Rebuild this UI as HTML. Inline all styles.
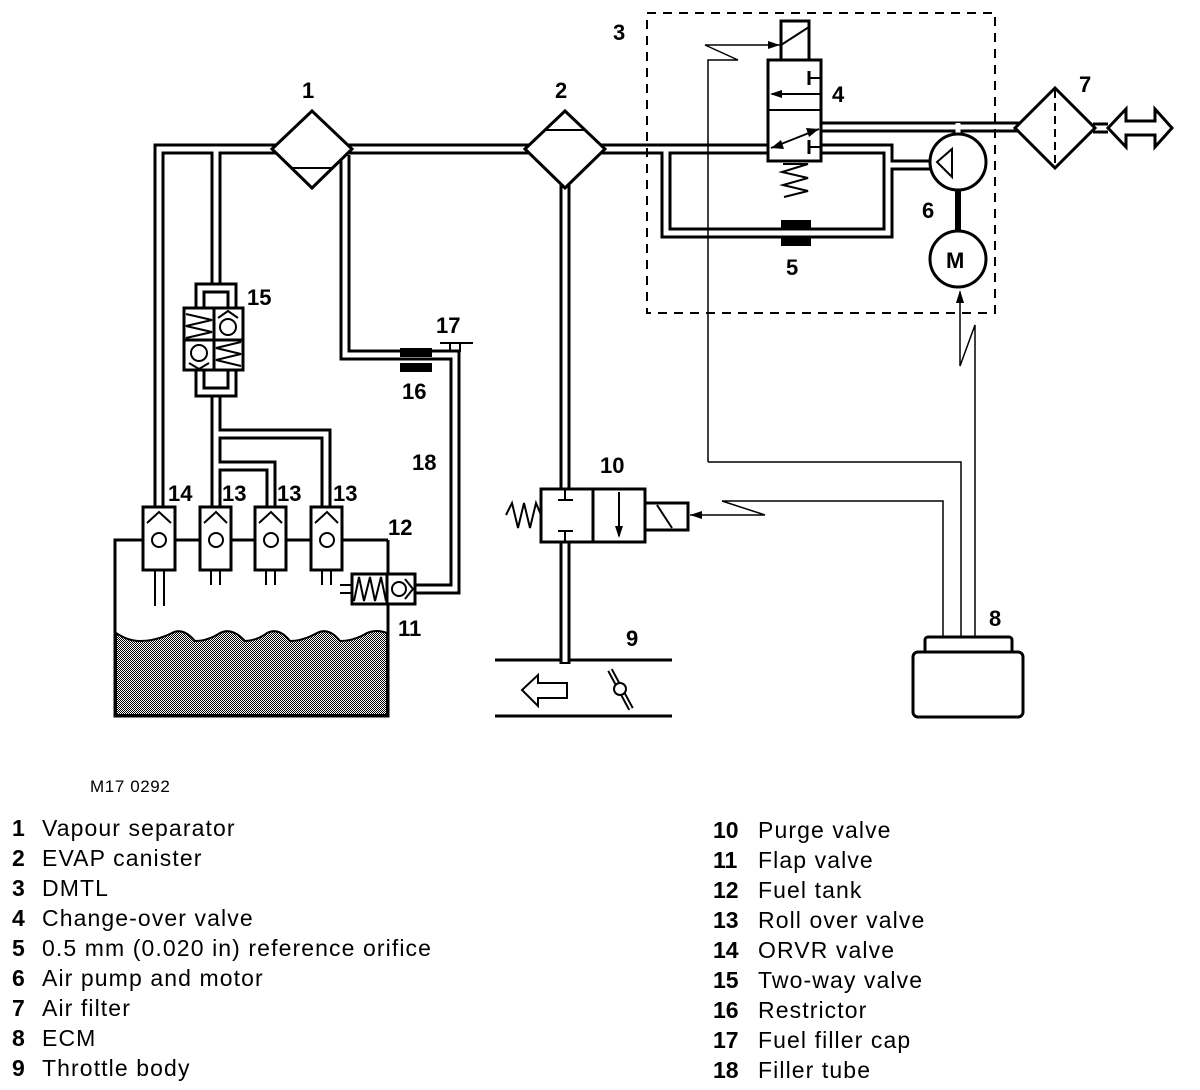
<!DOCTYPE html>
<html><head><meta charset="utf-8"><style>
html,body{margin:0;padding:0;background:#fff;}
svg{display:block;}
.t{font-family:"Liberation Sans",sans-serif;font-weight:bold;font-size:22px;fill:#000;}
.l{font-family:"Liberation Sans",sans-serif;font-size:23px;letter-spacing:1.1px;fill:#000;}
.lb{font-family:"Liberation Sans",sans-serif;font-size:23px;font-weight:bold;fill:#000;}
</style></head><body>
<svg width="1200" height="1090" viewBox="0 0 1200 1090" xmlns="http://www.w3.org/2000/svg">
<defs>
<pattern id="dith" width="2" height="2" patternUnits="userSpaceOnUse">
<rect width="2" height="2" fill="#fff"/><rect width="1" height="1" fill="#000"/><rect x="1" y="1" width="1" height="1" fill="#000"/>
</pattern>
</defs>
<g fill="none" stroke-linejoin="miter" stroke-linecap="butt">
<g stroke="#000" stroke-width="11">
<path d="M159,507 V149 H280"/>
<path d="M216,286 V149"/>
<path d="M345,155 V355 H455 V589 H415"/>
<path d="M345,149 H768"/>
<path d="M565,170 V490"/>
<path d="M565,542 V664"/>
<path d="M666,149 V233 H888 V149 H821"/>
<path d="M888,165 H932"/>
<path d="M821,127 H1020"/>
<path d="M958,127 V135"/>
<path d="M216,395 V507"/>
<path d="M216,434 H326 V507"/>
<path d="M216,466 H271 V507"/>
<path d="M1093,128 H1108"/>
</g>
<g stroke="#fff" stroke-width="5">
<path d="M159,510 V149 H280"/>
<path d="M216,286 V149"/>
<path d="M345,152 V355 H455 V589 H412"/>
<path d="M345,149 H768"/>
<path d="M565,170 V490"/>
<path d="M565,542 V662"/>
<path d="M666,149 V233 H888 V149 H821"/>
<path d="M888,165 H932"/>
<path d="M821,127 H1020"/>
<path d="M958,123 V137"/>
<path d="M216,394 V510"/>
<path d="M216,434 H326 V510"/>
<path d="M216,466 H271 V510"/>
<path d="M1093,128 H1108"/>
</g>
</g>
<g fill="none" stroke="#000" stroke-width="3">
<polygon points="272,149 312,111 352,149 312,188" fill="#fff"/>
<line x1="292" y1="168" x2="332" y2="168" stroke-width="2"/>
<polygon points="525,149 565,111 605,149 565,188" fill="#fff"/>
<line x1="545" y1="130" x2="585" y2="130" stroke-width="2"/>
<rect x="647" y="13" width="348" height="300" stroke-dasharray="9,7" stroke-width="2"/>
<rect x="781" y="21" width="28" height="40" fill="#fff"/>
<line x1="781" y1="45" x2="809" y2="27" stroke-width="2"/>
<rect x="768" y="60" width="53" height="101" fill="#fff"/>
<line x1="768" y1="110" x2="821" y2="110" stroke-width="2"/>
<line x1="772" y1="94" x2="821" y2="94" stroke-width="2"/>
<line x1="808" y1="78" x2="821" y2="78" stroke-width="2"/><line x1="809" y1="71" x2="809" y2="85"/>
<line x1="808" y1="147" x2="821" y2="147" stroke-width="2"/><line x1="809" y1="140" x2="809" y2="154"/>
<line x1="771" y1="148" x2="819" y2="129" stroke-width="2"/>
<polyline points="783,164 808,164 782,172 808,178 783,185 808,191 784,197" stroke-width="2"/>
<polyline points="708,462 708,60 738,60 705,45 780,45" stroke-width="1.5"/>
<circle cx="958" cy="162" r="28" fill="#fff"/>
<polygon points="937,162 952,149 952,177" stroke-width="2"/>
<line x1="958" y1="190" x2="958" y2="232" stroke-width="6"/>
<circle cx="958" cy="259" r="28" fill="#fff"/>
<rect x="781" y="220" width="30" height="10" fill="#000" stroke="none"/>
<rect x="781" y="236" width="30" height="10" fill="#000" stroke="none"/>
<polygon points="1015,128 1055,88 1095,128 1055,168" fill="#fff"/>
<line x1="1055" y1="90" x2="1055" y2="166" stroke-dasharray="8,5" stroke-width="2"/>
<polygon points="1108,128 1126,109 1126,121 1155,121 1155,109 1172,128 1155,147 1155,135 1126,135 1126,147" fill="#fff"/>
<polyline points="708,462 961,462 961,637" stroke-width="1.5"/>
<polyline points="975,637 975,325 960,366 960,292" stroke-width="1.5"/>
<polyline points="943,637 943,501 722,501 765,515 690,515" stroke-width="1.5"/>
<rect x="925" y="637" width="87" height="18" rx="3" fill="#fff"/>
<rect x="913" y="652" width="110" height="65" rx="5" fill="#fff"/>
<rect x="541" y="489" width="104" height="53" fill="#fff"/>
<line x1="593" y1="489" x2="593" y2="542"/>
<line x1="558" y1="500" x2="573" y2="500" stroke-width="2"/><line x1="565" y1="490" x2="565" y2="500" stroke-width="2"/>
<line x1="558" y1="531" x2="573" y2="531" stroke-width="2"/><line x1="565" y1="531" x2="565" y2="542" stroke-width="2"/>
<line x1="619" y1="492" x2="619" y2="536" stroke-width="2"/>
<rect x="645" y="503" width="43" height="27" fill="#fff"/>
<line x1="657" y1="505" x2="672" y2="528" stroke-width="2"/>
<polyline points="541,515 536,503 530,528 524,503 518,528 512,503 506,515" stroke-width="2"/>
<line x1="495" y1="660" x2="561" y2="660"/><line x1="569" y1="660" x2="672" y2="660"/>
<line x1="495" y1="716" x2="672" y2="716"/>
<polygon points="522,690 538,675 538,683 567,683 567,698 538,698 538,706" stroke-width="2" fill="#fff"/>
<line x1="610" y1="670" x2="631" y2="709" stroke-width="6"/>
<line x1="610" y1="670" x2="631" y2="709" stroke="#fff" stroke-width="2"/>
<circle cx="620" cy="689" r="6" fill="#fff" stroke-width="2"/>
<rect x="400" y="348" width="32" height="9" fill="#000" stroke="none"/>
<rect x="400" y="363" width="32" height="9" fill="#000" stroke="none"/>
<line x1="450" y1="343" x2="450" y2="352" stroke-width="2"/>
<line x1="460" y1="343" x2="460" y2="352" stroke-width="2"/>
<line x1="440" y1="343" x2="473" y2="343" stroke-width="2"/>
<path d="M196,308 V284 H236 V308 M204,308 V292 H228 V308" fill="#fff"/>
<path d="M196,370 V396 H236 V370 M204,370 V388 H228 V370" fill="#fff"/>
<rect x="184" y="308" width="59" height="62" fill="#fff"/>
<line x1="214" y1="308" x2="214" y2="370"/>
<line x1="184" y1="340" x2="243" y2="340"/>
<polyline points="186,314 212,320 186,326 212,332 186,338" stroke-width="2"/>
<polyline points="241,342 216,348 241,354 216,360 241,366" stroke-width="2"/>
<circle cx="228" cy="327" r="8" stroke-width="2"/><polyline points="218,318 228,311 238,318" stroke-width="2"/>
<circle cx="199" cy="353" r="8" stroke-width="2"/><polyline points="189,363 199,369 209,363" stroke-width="2"/>
<path d="M388,540 V716 H115 V540 H143 M175,540 H200 M231,540 H255 M286,540 H311 M342,540 H388" stroke-width="3"/>
<path d="M116,633 Q128,641 140,641 Q156,641 172,633 Q183,627 195,641 Q208,641 220,633 Q232,627 245,641 Q256,641 267,633 Q279,627 290,641 Q303,641 317,633 Q329,627 340,641 Q354,641 367,633 Q377,629 387,633 V715 H116 Z" fill="url(#dith)" stroke-width="2"/>
</g>
<g fill="#fff" stroke="#000" stroke-width="3">
<rect x="143" y="507" width="32" height="63"/>
<rect x="200" y="507" width="31" height="63"/>
<rect x="255" y="507" width="31" height="63"/>
<rect x="311" y="507" width="31" height="63"/>
</g>
<g fill="none" stroke="#000" stroke-width="2">
<polyline points="147,523 159,512 171,523"/><circle cx="159" cy="540" r="7"/>
<polyline points="204,523 216,512 227,523"/><circle cx="216" cy="540" r="7"/>
<polyline points="259,523 271,512 282,523"/><circle cx="271" cy="540" r="7"/>
<polyline points="315,523 327,512 338,523"/><circle cx="327" cy="540" r="7"/>
<path d="M155,570 V606 M164,570 V606 M211,570 V585 M220,570 V585 M266,570 V585 M275,570 V585 M322,570 V585 M331,570 V585"/>
<rect x="352" y="574" width="35" height="30" fill="#fff" stroke-width="3"/>
<rect x="387" y="574" width="28" height="30" fill="#fff" stroke-width="3"/>
<polyline points="354,601 359,577 364,601 370,577 375,601 381,577 386,601"/>
<circle cx="399" cy="589" r="7"/><polyline points="405,579 413,589 405,599"/>
<path d="M340,585 H352 M340,593 H352"/>
</g>
<g class="t">
<text x="302" y="98">1</text><text x="555" y="98">2</text><text x="613" y="40">3</text>
<text x="832" y="102">4</text><text x="786" y="275">5</text><text x="922" y="218">6</text>
<text x="1079" y="92">7</text><text x="989" y="626">8</text><text x="626" y="646">9</text>
<text x="600" y="473">10</text><text x="398" y="636">11</text><text x="388" y="535">12</text>
<text x="222" y="501">13</text><text x="277" y="501">13</text><text x="333" y="501">13</text>
<text x="168" y="501">14</text><text x="247" y="305">15</text><text x="402" y="399">16</text>
<text x="436" y="333">17</text><text x="412" y="470">18</text>
<text x="946" y="268">M</text>
</g>
<text x="90" y="792" style="font-family:'Liberation Sans',sans-serif;font-size:17px;letter-spacing:0.6px">M17 0292</text>
<g>
<text class="lb" x="12" y="836">1</text><text class="l" x="42" y="836">Vapour separator</text>
<text class="lb" x="12" y="866">2</text><text class="l" x="42" y="866">EVAP canister</text>
<text class="lb" x="12" y="896">3</text><text class="l" x="42" y="896">DMTL</text>
<text class="lb" x="12" y="926">4</text><text class="l" x="42" y="926">Change-over valve</text>
<text class="lb" x="12" y="956">5</text><text class="l" x="42" y="956">0.5 mm (0.020 in) reference orifice</text>
<text class="lb" x="12" y="986">6</text><text class="l" x="42" y="986">Air pump and motor</text>
<text class="lb" x="12" y="1016">7</text><text class="l" x="42" y="1016">Air filter</text>
<text class="lb" x="12" y="1046">8</text><text class="l" x="42" y="1046">ECM</text>
<text class="lb" x="12" y="1076">9</text><text class="l" x="42" y="1076">Throttle body</text>
<text class="lb" x="713" y="838">10</text><text class="l" x="758" y="838">Purge valve</text>
<text class="lb" x="713" y="868">11</text><text class="l" x="758" y="868">Flap valve</text>
<text class="lb" x="713" y="898">12</text><text class="l" x="758" y="898">Fuel tank</text>
<text class="lb" x="713" y="928">13</text><text class="l" x="758" y="928">Roll over valve</text>
<text class="lb" x="713" y="958">14</text><text class="l" x="758" y="958">ORVR valve</text>
<text class="lb" x="713" y="988">15</text><text class="l" x="758" y="988">Two-way valve</text>
<text class="lb" x="713" y="1018">16</text><text class="l" x="758" y="1018">Restrictor</text>
<text class="lb" x="713" y="1048">17</text><text class="l" x="758" y="1048">Fuel filler cap</text>
<text class="lb" x="713" y="1078">18</text><text class="l" x="758" y="1078">Filler tube</text>
</g>
<polygon points="770,94 782,90 782,98" fill="#000"/>
<polygon points="771,148 781,140 784,149" fill="#000"/>
<polygon points="819,129 806,128 809,137" fill="#000"/>
<polygon points="619,538 615,526 623,526" fill="#000"/>
<polygon points="690,515 702,511 702,519" fill="#000"/>
<polygon points="960,290 956,303 964,303" fill="#000"/>
<polygon points="780,45 768,41 768,49" fill="#000"/>
</svg>
</body></html>
